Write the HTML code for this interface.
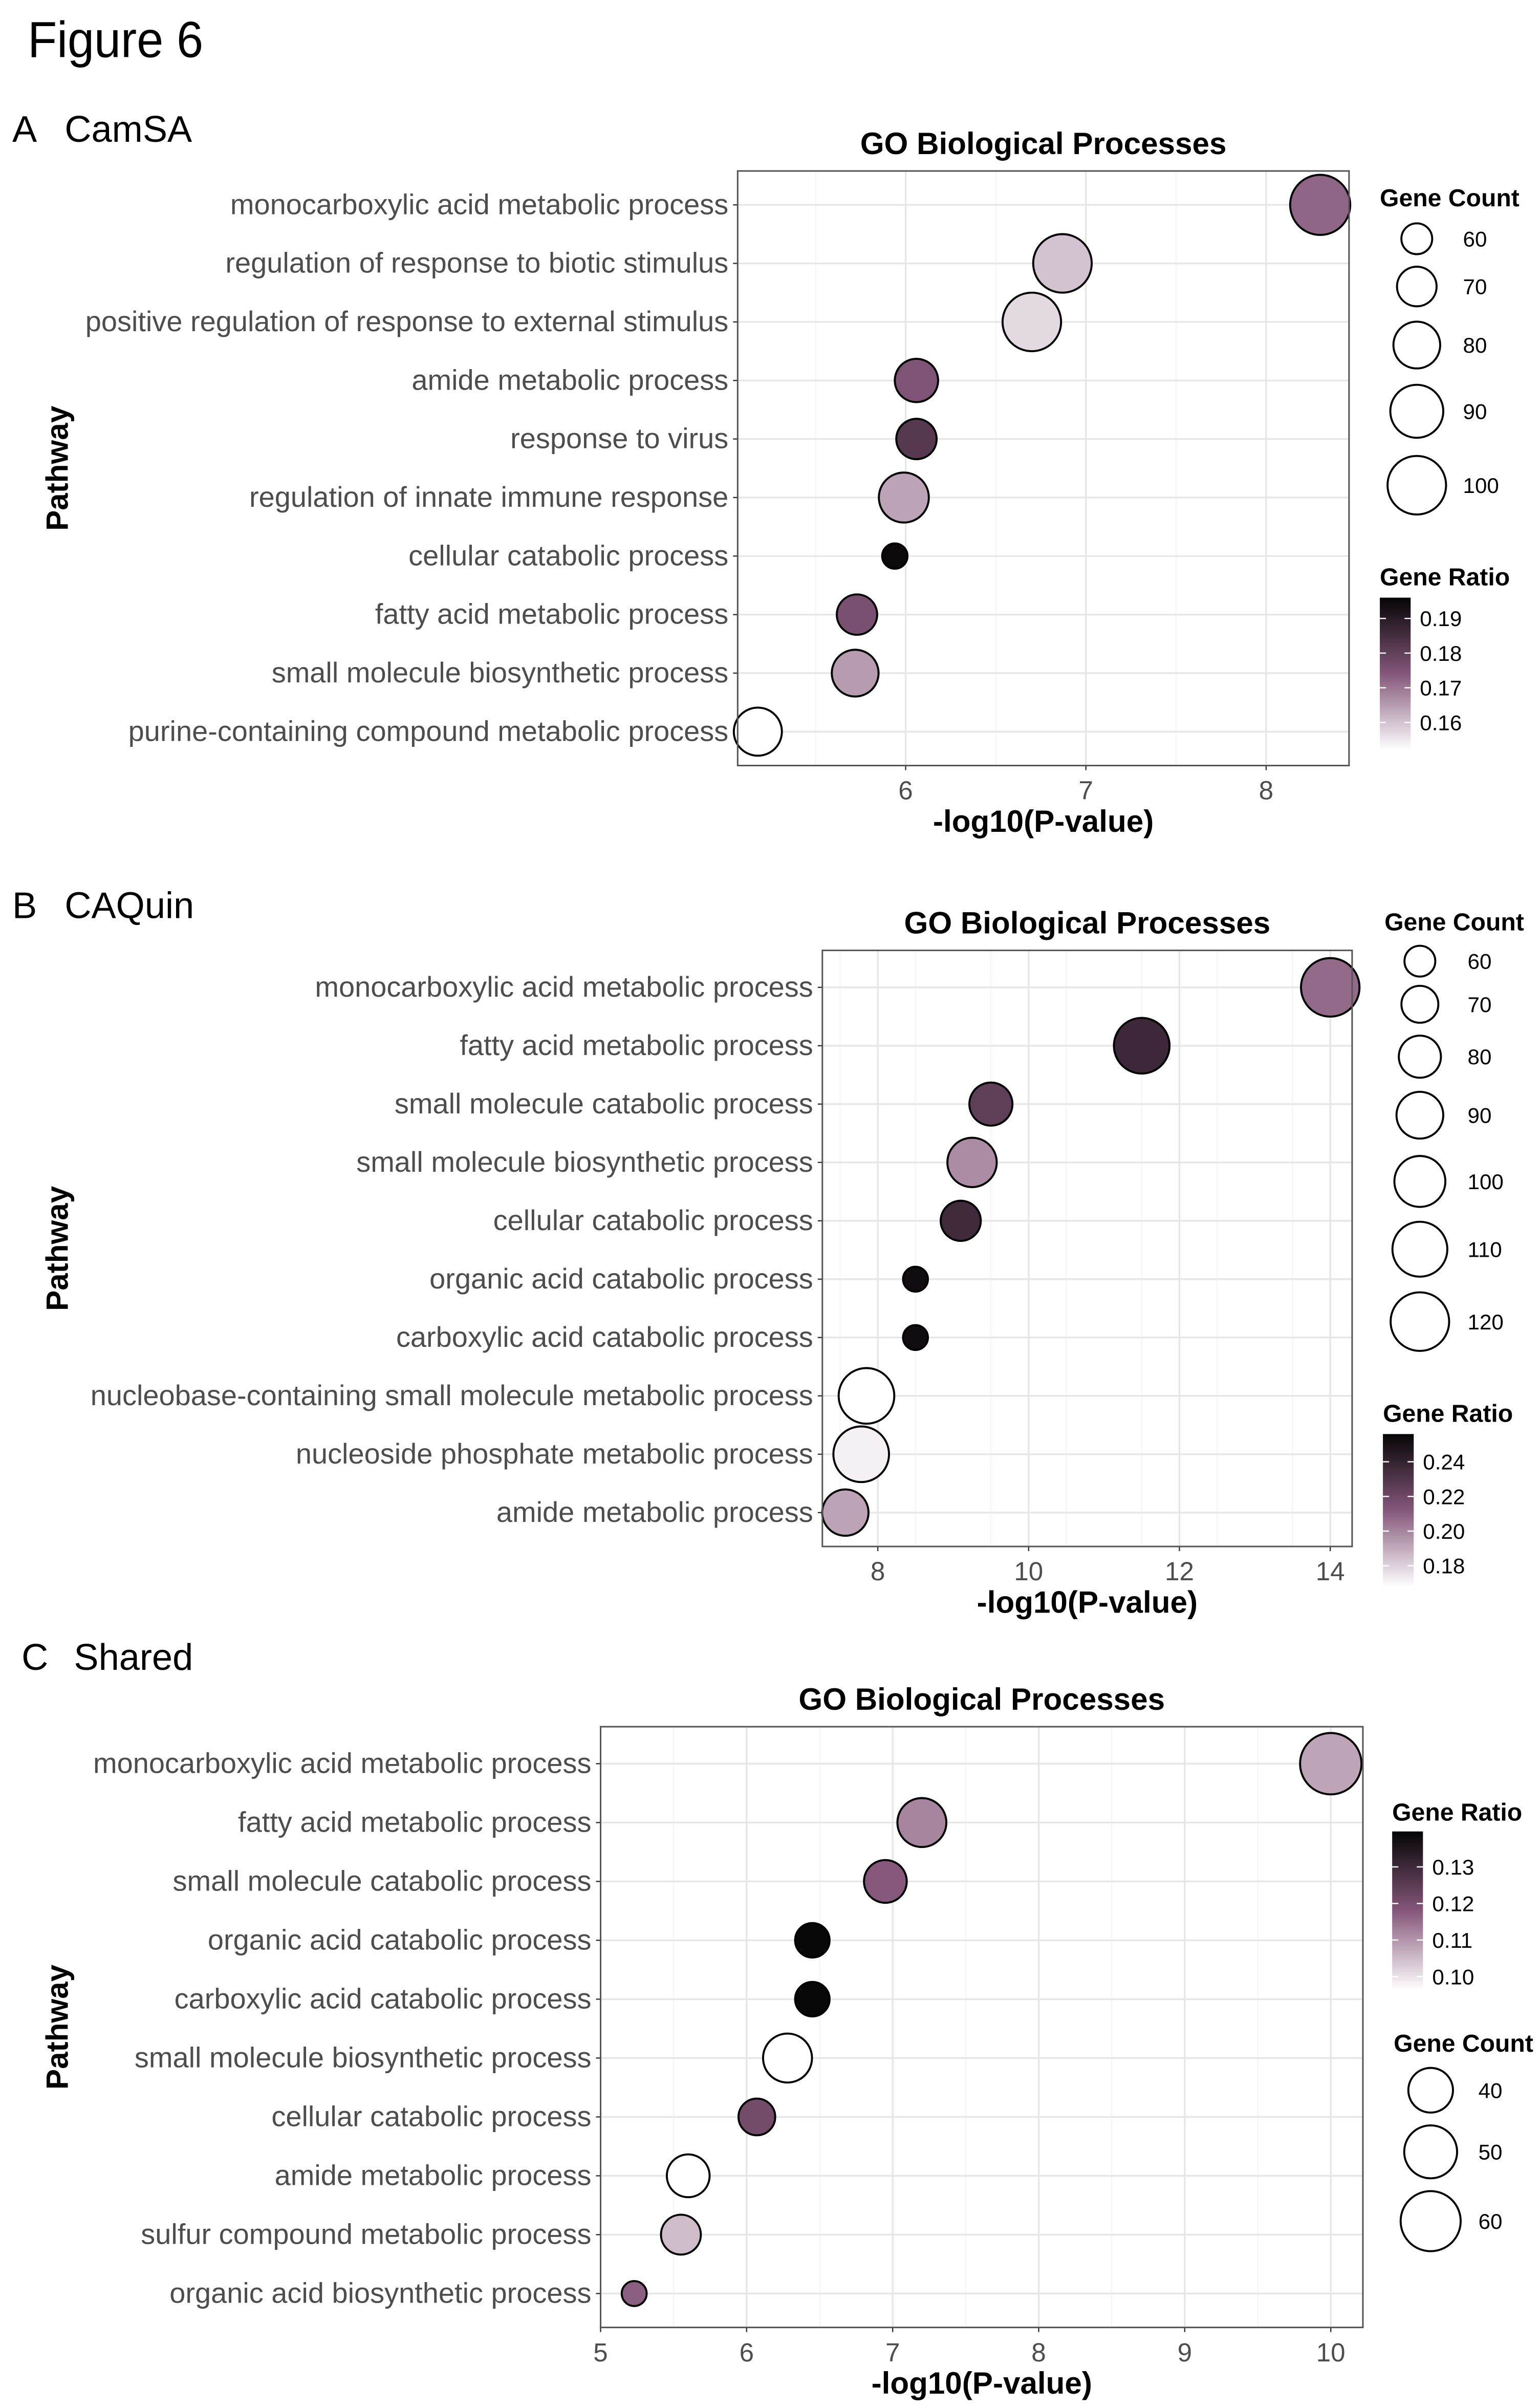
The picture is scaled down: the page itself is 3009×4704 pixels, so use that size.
<!DOCTYPE html>
<html><head><meta charset="utf-8">
<style>
html,body{margin:0;padding:0;background:#fff;}
svg{display:block;font-family:"Liberation Sans",Arial,sans-serif;}
</style></head>
<body>
<svg id="fig" width="3009" height="4704" viewBox="0 0 1000 1563.3" xmlns="http://www.w3.org/2000/svg">
<rect width="1000" height="1563.3" fill="#fff"/>
<defs>
<linearGradient id="gr" x1="0" y1="1" x2="0" y2="0">
<stop offset="0" stop-color="#ffffff"/>
<stop offset="0.5" stop-color="#85577a"/>
<stop offset="1" stop-color="#050505"/>
</linearGradient>
</defs>
<text x="18" y="37" font-size="33" textLength="114" lengthAdjust="spacingAndGlyphs">Figure 6</text>
<g id="root"></g>
</svg>
<script>
// ---- Panel A data ----
const catsA = ["monocarboxylic acid metabolic process","regulation of response to biotic stimulus","positive regulation of response to external stimulus","amide metabolic process","response to virus","regulation of innate immune response","cellular catabolic process","fatty acid metabolic process","small molecule biosynthetic process","purine-containing compound metabolic process"];
const pvalA = [8.30,6.87,6.70,6.06,6.06,5.99,5.94,5.73,5.72,5.18];
const countA = [103,100,100,75,71,85,55,71,80,82];
const ratioA = [0.172,0.160,0.157,0.175,0.182,0.164,0.195,0.176,0.165,0.152];
const ticksA = [6,7,8];
const countLegA = [60,70,80,90,100];
const ratioTicksA = ["0.16","0.17","0.18","0.19"];
// ---- Panel B data ----
const catsB = ["monocarboxylic acid metabolic process","fatty acid metabolic process","small molecule catabolic process","small molecule biosynthetic process","cellular catabolic process","organic acid catabolic process","carboxylic acid catabolic process","nucleobase-containing small molecule metabolic process","nucleoside phosphate metabolic process","amide metabolic process"];
const pvalB = [14.0,11.5,9.5,9.25,9.1,8.5,8.5,7.85,7.78,7.57];
const countB = [120,112,82,96,76,52,52,112,112,89];
const ratioB = [0.207,0.237,0.225,0.198,0.236,0.252,0.252,0.168,0.172,0.192];
const ticksB = [8,10,12,14];
const countLegB = [60,70,80,90,100,110,120];
const ratioTicksB = ["0.18","0.20","0.22","0.24"];
// ---- Panel C data ----
const catsC = ["monocarboxylic acid metabolic process","fatty acid metabolic process","small molecule catabolic process","organic acid catabolic process","carboxylic acid catabolic process","small molecule biosynthetic process","cellular catabolic process","amide metabolic process","sulfur compound metabolic process","organic acid biosynthetic process"];
const pvalC = [10.0,7.2,6.95,6.45,6.45,6.28,6.07,5.6,5.55,5.23];
const countC = [62,45,38,30,30,45,32,38,35,23];
const ratioC = [0.108,0.112,0.118,0.139,0.139,0.096,0.121,0.096,0.105,0.117];
const ticksC = [5,6,7,8,9,10];
const countLegC = [40,50,60];
const ratioTicksC = ["0.10","0.11","0.12","0.13"];

const NS="http://www.w3.org/2000/svg";
const root=document.getElementById('root');
function mk(tag,attrs,parent,txt){const e=document.createElementNS(NS,tag);for(const k in attrs)e.setAttribute(k,attrs[k]);if(txt!==undefined)e.textContent=txt;(parent||root).appendChild(e);return e;}
function lerp(a,b,t){return a+(b-a)*t;}
function hex(c){return [parseInt(c.slice(1,3),16),parseInt(c.slice(3,5),16),parseInt(c.slice(5,7),16)];}
const stops=[hex('#ffffff'),hex('#85577a'),hex('#050505')];
function colorAt(t){t=Math.max(0,Math.min(1,t));let a,b,u;if(t<0.5){a=stops[0];b=stops[1];u=t/0.5;}else{a=stops[1];b=stops[2];u=(t-0.5)/0.5;}return 'rgb('+[0,1,2].map(i=>Math.round(lerp(a[i],b[i],u))).join(',')+')';}

function panel(cfg){
  const g=mk('g',{});
  
  
  const {x0,x1,y0,y1,vmin,vmax,rowFirst,rowLast}=cfg;
  const xs=v=>x0+(v-vmin)/(vmax-vmin)*(x1-x0);
  const n=cfg.cats.length;
  const ys=i=>rowFirst+(rowLast-rowFirst)*i/(n-1);
  const rs=c=>Math.sqrt(Math.max(9,cfg.r2a+(cfg.r2b-cfg.r2a)*(c-cfg.ca)/(cfg.cb-cfg.ca)));
  const cs=r=>colorAt((r-cfg.rlo)/(cfg.rhi-cfg.rlo));
  // panel label
  const pl=mk('text',{x:cfg.lx,y:cfg.ly,'font-size':24},g,cfg.letter);
  
  const pn=mk('text',{x:cfg.lx+34,y:cfg.ly,'font-size':24},g,cfg.label);
  
  // title
  const t=mk('text',{x:(x0+x1)/2,y:y0-11,'font-size':20,'font-weight':'bold','text-anchor':'middle'},g,'GO Biological Processes');
  
  // minor grid
  for(let v=Math.ceil(vmin*2)/2; v<=vmax; v+=0.5){
    if(Math.abs(v-Math.round(v))<1e-6) continue;
    const l=mk('line',{x1:xs(v),x2:xs(v),y1:y0,y2:y1,stroke:'#f3f3f3','stroke-width':0.6},g);
    
  }
  cfg.ticks.forEach(v=>{
    const l=mk('line',{x1:xs(v),x2:xs(v),y1:y0,y2:y1,stroke:'#e6e6e6','stroke-width':1.1},g);
    
  });
  for(let i=0;i<n;i++){
    const l=mk('line',{x1:x0,x2:x1,y1:ys(i),y2:ys(i),stroke:'#e6e6e6','stroke-width':1.1},g);
    
  }
  // ticks & labels
  cfg.ticks.forEach(v=>{
    const tk=mk('line',{x1:xs(v),x2:xs(v),y1:y1,y2:y1+3,stroke:'#333','stroke-width':0.8},g);
    
    const tl=mk('text',{x:xs(v),y:y1+22,'font-size':17,fill:'#4d4d4d','text-anchor':'middle'},g,String(v));
    
  });
  cfg.cats.forEach((c,i)=>{
    const tk=mk('line',{x1:x0-3,x2:x0,y1:ys(i),y2:ys(i),stroke:'#333','stroke-width':0.8},g);
    
    const tl=mk('text',{x:x0-6,y:ys(i)+6,'font-size':18.6,fill:'#4d4d4d','text-anchor':'end'},g,c);
    
  });
  // points
  cfg.cats.forEach((c,i)=>{
    const p=mk('circle',{cx:xs(cfg.pval[i]),cy:ys(i),r:rs(cfg.count[i]),fill:cs(cfg.ratio[i]),stroke:'#000','stroke-width':1.3},g);
    
  });
  // border
  const b=mk('rect',{x:x0,y:y0,width:x1-x0,height:y1-y0,fill:'none',stroke:'#555','stroke-width':1},g);
  
  // axis titles
  const xt=mk('text',{x:(x0+x1)/2,y:y1+43,'font-size':20,'font-weight':'bold','text-anchor':'middle'},g,'-log10(P-value)');
  
  const yc=(y0+y1)/2;
  const yt=mk('text',{x:44,y:yc,'font-size':20,'font-weight':'bold','text-anchor':'middle',transform:'rotate(-90 44 '+yc+')'},g,'Pathway');
  
  // size legend
  const sl=cfg.sizeLeg;
  const st=mk('text',{x:sl.x,y:sl.ty,'font-size':16,'font-weight':'bold'},g,'Gene Count');
  
  cfg.countLeg.forEach((c,i)=>{
    const e=mk('circle',{cx:sl.cx,cy:sl.ys[i],r:rs(c),fill:'#fff',stroke:'#000','stroke-width':1.3},g);
    
    const l=mk('text',{x:sl.lx,y:sl.ys[i]+5,'font-size':14},g,String(c));
    
  });
  // color legend
  const cl=cfg.colLeg;
  const ct=mk('text',{x:cl.x,y:cl.ty,'font-size':16,'font-weight':'bold'},g,'Gene Ratio');
  
  const bar=mk('rect',{x:cl.x,y:cl.top,width:20,height:cl.bot-cl.top,fill:'url(#gr)'},g);
  
  cfg.ratioTicks.forEach(s=>{
    const v=parseFloat(s);
    const yy=cl.bot-(v-cfg.rlo)/(cfg.rhi-cfg.rlo)*(cl.bot-cl.top);
    const tk=mk('line',{x1:cl.x,x2:cl.x+4,y1:yy,y2:yy,stroke:'#fff','stroke-width':0.8},g);
    
    const tk2=mk('line',{x1:cl.x+16,x2:cl.x+20,y1:yy,y2:yy,stroke:'#fff','stroke-width':0.8},g);
    
    const l=mk('text',{x:cl.x+26,y:yy+5,'font-size':14},g,s);
    
  });
}

panel({name:'panel-a-camsa',letter:'A',label:'CamSA',lx:8,ly:92,cats:catsA,pval:pvalA,count:countA,ratio:ratioA,ticks:ticksA,
  x0:479,x1:876,y0:111,y1:497,vmin:5.068,vmax:8.46,rowFirst:133,rowLast:475,
  ca:60,cb:100,r2a:100,r2b:361,rlo:0.152,rhi:0.196,countLeg:countLegA,ratioTicks:ratioTicksA,
  sizeLeg:{x:896,ty:134,cx:920,lx:950,ys:[155,186,224,267,315]},
  colLeg:{x:896,ty:380,top:388,bot:487}});
panel({name:'panel-b-caquin',letter:'B',label:'CAQuin',lx:8,ly:596,cats:catsB,pval:pvalB,count:countB,ratio:ratioB,ticks:ticksB,
  x0:534,x1:878,y0:617,y1:1004,vmin:7.265,vmax:14.29,rowFirst:641,rowLast:982,
  ca:60,cb:120,r2a:100,r2b:361,rlo:0.168,rhi:0.256,countLeg:countLegB,ratioTicks:ratioTicksB,
  sizeLeg:{x:899,ty:604,cx:922,lx:953,ys:[624,652,686,724,767,811,858]},
  colLeg:{x:898,ty:923,top:931,bot:1030}});
panel({name:'panel-c-shared',letter:'C',label:'Shared',lx:14,ly:1084,cats:catsC,pval:pvalC,count:countC,ratio:ratioC,ticks:ticksC,
  x0:390,x1:885,y0:1121,y1:1511,vmin:5,vmax:10.22,rowFirst:1145,rowLast:1489,
  ca:40,cb:60,r2a:210,r2b:380,rlo:0.0963,rhi:0.1397,countLeg:countLegC,ratioTicks:ratioTicksC,
  sizeLeg:{x:905,ty:1332,cx:929,lx:960,ys:[1357,1397,1442]},
  colLeg:{x:904,ty:1182,top:1189,bot:1292}});
</script>
</body></html>
